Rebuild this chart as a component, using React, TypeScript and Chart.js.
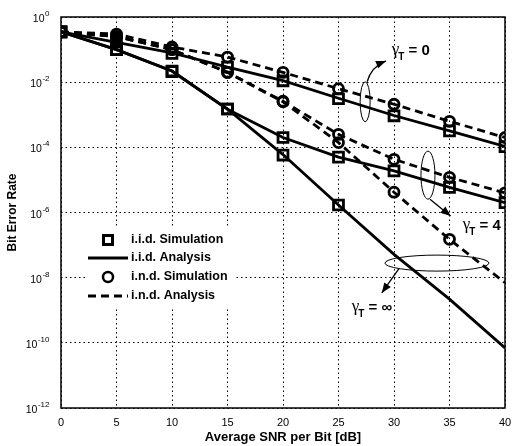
import React, { useEffect, useRef } from 'react';
import { Chart, registerables } from 'chart.js';
Chart.register(...registerables);

// ---- data ----
const snr = [0, 5, 10, 15, 20, 25, 30, 35, 40];

const iidAnalysisG0 = [3.5e-1, 1.66e-1, 7.9e-2, 2.9e-2, 1.12e-2, 3.2e-3, 9.5e-4, 3.2e-4, 1.07e-4];
const iidAnalysisG4 = [3.5e-1, 1.0e-1, 2.2e-2, 1.48e-3, 2.0e-4, 5.0e-5, 1.9e-5, 5.9e-6, 2.0e-6];
const iidAnalysisGInf = [3.5e-1, 1.0e-1, 2.2e-2, 1.48e-3, 6.0e-5, 1.7e-6, 5.2e-8, 2.2e-9, 7.0e-11];

const indAnalysisG0 = [3.5e-1, 3.0e-1, 1.2e-1, 5.9e-2, 2.0e-2, 6.3e-3, 2.1e-3, 6.3e-4, 2.0e-4];
const indAnalysisG4 = [3.5e-1, 2.5e-1, 1.0e-1, 2.0e-2, 2.6e-3, 2.5e-4, 4.3e-5, 1.2e-5, 4.0e-6];
const indAnalysisGInf = [3.5e-1, 2.5e-1, 1.0e-1, 2.0e-2, 2.5e-3, 1.4e-4, 4.2e-6, 1.5e-7, 7.0e-9];

const iidSimG0 = [3.5e-1, 1.7e-1, 7.6e-2, 2.9e-2, 1.1e-2, 3.1e-3, 9.3e-4, 3.2e-4, 1.05e-4];
const iidSimG4 = [3.5e-1, 1.0e-1, 2.2e-2, 1.5e-3, 2.0e-4, 5.0e-5, 1.9e-5, 5.9e-6, 2.0e-6];
const iidSimGInf = [3.5e-1, 1.0e-1, 2.1e-2, 1.5e-3, 5.8e-5, 1.7e-6];

const indSimG0 = [3.5e-1, 3.0e-1, 1.2e-1, 5.9e-2, 2.0e-2, 6.3e-3, 2.1e-3, 6.3e-4, 2.0e-4];
const indSimG4 = [3.5e-1, 2.5e-1, 1.0e-1, 2.0e-2, 2.6e-3, 2.5e-4, 4.3e-5, 1.2e-5, 4.0e-6];
const indSimGInf = [3.5e-1, 2.5e-1, 1.0e-1, 2.0e-2, 2.5e-3, 1.4e-4, 4.2e-6, 1.5e-7];

const yTickValues = [1, 1e-2, 1e-4, 1e-6, 1e-8, 1e-10, 1e-12];
const yTickBase = '10';
const yTickExponents = ['0', '-2', '-4', '-6', '-8', '-10', '-12'];
const xTickValues = [0, 5, 10, 15, 20, 25, 30, 35, 40];

const legendLabels = ['i.i.d. Simulation', 'i.i.d. Analysis', 'i.n.d. Simulation', 'i.n.d. Analysis'];
const xTitle = 'Average SNR per Bit [dB]';
const yTitle = 'Bit Error Rate';

// annotation anchors in data coordinates
const annotValues = ['0', '4', '∞'];
const annotEllipse = [
  { x: 27.4, y: 2.5e-3 },
  { x: 33.06, y: 1.4e-5 },
  { x: 33.87, y: 2.8e-8 },
];
const annotArrowEnd = [
  { x: 29.28, y: 4.5e-2 },
  { x: 35.1, y: 7.8e-7 },
  { x: 28.9, y: 3.4e-9 },
];
const annotLabelPos = [
  { x: 29.8, y: 9.8e-2 },
  { x: 36.2, y: 4.2e-7 },
  { x: 26.2, y: 1.26e-9 },
];

const FONT = '"Liberation Sans", Arial, sans-serif';

function pts(ys: number[]) {
  return ys.map((v, i) => ({ x: snr[i], y: v }));
}

function drawArrowHead(ctx: CanvasRenderingContext2D, x: number, y: number, ang: number) {
  const L = 10, W = 4;
  ctx.beginPath();
  ctx.moveTo(x, y);
  ctx.lineTo(x - L * Math.cos(ang) + W * Math.sin(ang), y - L * Math.sin(ang) - W * Math.cos(ang));
  ctx.lineTo(x - L * Math.cos(ang) - W * Math.sin(ang), y - L * Math.sin(ang) + W * Math.cos(ang));
  ctx.closePath();
  ctx.fill();
}

function drawGammaLabel(ctx: CanvasRenderingContext2D, x: number, y: number, val: string) {
  ctx.save();
  ctx.fillStyle = '#000';
  ctx.textBaseline = 'alphabetic';
  ctx.textAlign = 'left';
  ctx.font = '17px "Liberation Serif", serif';
  ctx.fillText('γ', x, y + 4);
  const gw = ctx.measureText('γ').width;
  ctx.font = 'bold 10px ' + FONT;
  ctx.fillText('T', x + gw - 1, y + 10);
  const tw = ctx.measureText('T').width;
  ctx.font = 'bold 15px ' + FONT;
  ctx.fillText(' = ' + val, x + gw + tw - 1, y + 5);
  ctx.restore();
}

const overlayPlugin = {
  id: 'overlay',
  afterDatasetsDraw(chart: any) {
    const { ctx, chartArea } = chart;
    const xs = chart.scales.x;
    const ys = chart.scales.y;
    ctx.save();
    // frame
    ctx.strokeStyle = '#000';
    ctx.lineWidth = 1.5;
    ctx.setLineDash([]);
    ctx.strokeRect(chartArea.left, chartArea.top, chartArea.right - chartArea.left, chartArea.bottom - chartArea.top);

    // y tick labels (10 with raised exponent)
    ctx.fillStyle = '#000';
    ctx.textBaseline = 'alphabetic';
    ctx.textAlign = 'left';
    yTickValues.forEach((v, i) => {
      const py = ys.getPixelForValue(v);
      ctx.font = '10.5px ' + FONT;
      const bw = ctx.measureText(yTickBase).width;
      ctx.font = '8px ' + FONT;
      const ew = ctx.measureText(yTickExponents[i]).width;
      const right = chartArea.left - 12;
      const bx = right - ew - bw;
      ctx.font = '10.5px ' + FONT;
      ctx.fillText(yTickBase, bx, py + 5);
      ctx.font = '8px ' + FONT;
      ctx.fillText(yTickExponents[i], bx + bw + 0.5, py - 1);
    });

    // legend
    const lx = chartArea.left + 24;
    const ly = chartArea.top + 210;
    ctx.fillStyle = '#fff';
    ctx.fillRect(lx, ly, 150, 82);
    const rows = [13, 31, 50, 69];
    const symX = lx + 23;
    ctx.strokeStyle = '#000';
    ctx.fillStyle = '#000';
    ctx.lineWidth = 3;
    // square
    ctx.strokeRect(symX - 4.5, ly + rows[0] - 4.5, 9, 9);
    // solid line
    ctx.beginPath();
    ctx.moveTo(lx + 3, ly + rows[1]);
    ctx.lineTo(lx + 43, ly + rows[1]);
    ctx.stroke();
    // circle
    ctx.lineWidth = 2.5;
    ctx.beginPath();
    ctx.arc(symX, ly + rows[2], 5, 0, Math.PI * 2);
    ctx.stroke();
    // dashed
    ctx.lineWidth = 3;
    ctx.setLineDash([8, 5]);
    ctx.beginPath();
    ctx.moveTo(lx + 3, ly + rows[3]);
    ctx.lineTo(lx + 43, ly + rows[3]);
    ctx.stroke();
    ctx.setLineDash([]);
    ctx.font = 'bold 12.5px ' + FONT;
    ctx.textBaseline = 'middle';
    ctx.textAlign = 'left';
    legendLabels.forEach((t, i) => ctx.fillText(t, lx + 46, ly + rows[i]));

    // annotations
    const ellR = [
      { rx: 5, ry: 20 },
      { rx: 7, ry: 24 },
      { rx: 52, ry: 8 },
    ];
    ctx.lineWidth = 1;
    annotEllipse.forEach((e, i) => {
      const cx = xs.getPixelForValue(e.x);
      const cy = ys.getPixelForValue(e.y);
      ctx.beginPath();
      ctx.ellipse(cx, cy, ellR[i].rx, ellR[i].ry, 0, 0, Math.PI * 2);
      ctx.stroke();
    });
    ctx.lineWidth = 1.3;
    // arrow 0 (curved, from ellipse top)
    {
      const cx = xs.getPixelForValue(annotEllipse[0].x);
      const cy = ys.getPixelForValue(annotEllipse[0].y);
      const ex = xs.getPixelForValue(annotArrowEnd[0].x);
      const ey = ys.getPixelForValue(annotArrowEnd[0].y);
      const sx = cx + 2, sy = cy - ellR[0].ry;
      const qx = cx + 6, qy = ey + 6;
      ctx.beginPath();
      ctx.moveTo(sx, sy);
      ctx.quadraticCurveTo(qx, qy, ex, ey);
      ctx.stroke();
      drawArrowHead(ctx, ex, ey, Math.atan2(ey - qy, ex - qx));
    }
    // arrow 4 (from ellipse bottom)
    {
      const cx = xs.getPixelForValue(annotEllipse[1].x);
      const cy = ys.getPixelForValue(annotEllipse[1].y);
      const ex = xs.getPixelForValue(annotArrowEnd[1].x);
      const ey = ys.getPixelForValue(annotArrowEnd[1].y);
      const sx = cx + 2, sy = cy + ellR[1].ry;
      ctx.beginPath();
      ctx.moveTo(sx, sy);
      ctx.lineTo(ex, ey);
      ctx.stroke();
      drawArrowHead(ctx, ex, ey, Math.atan2(ey - sy, ex - sx));
    }
    // arrow inf (from ellipse lower left)
    {
      const cx = xs.getPixelForValue(annotEllipse[2].x);
      const cy = ys.getPixelForValue(annotEllipse[2].y);
      const ex = xs.getPixelForValue(annotArrowEnd[2].x);
      const ey = ys.getPixelForValue(annotArrowEnd[2].y);
      const sx = cx - 38, sy = cy + ellR[2].ry * 0.7;
      ctx.beginPath();
      ctx.moveTo(sx, sy);
      ctx.lineTo(ex, ey);
      ctx.stroke();
      drawArrowHead(ctx, ex, ey, Math.atan2(ey - sy, ex - sx));
    }
    annotLabelPos.forEach((p, i) => {
      drawGammaLabel(ctx, xs.getPixelForValue(p.x), ys.getPixelForValue(p.y), annotValues[i]);
    });
    ctx.restore();
  },
};

const lineDs = (label: string, data: number[], dashed: boolean) => ({
  label,
  data: pts(data),
  borderColor: '#000',
  backgroundColor: '#000',
  borderWidth: 2.8,
  borderDash: dashed ? [8, 5] : [],
  pointRadius: 0,
  showLine: true,
  fill: false,
  tension: 0,
});

const simDs = (label: string, data: number[], square: boolean) => ({
  label,
  data: pts(data),
  borderColor: '#000',
  backgroundColor: 'rgba(0,0,0,0)',
  pointStyle: square ? 'rect' : 'circle',
  pointRadius: square ? 7 : 5,
  pointBorderWidth: 2.8,
  showLine: false,
});

export default function App() {
  const ref = useRef<HTMLCanvasElement | null>(null);
  useEffect(() => {
    if (!ref.current) return;
    const chart = new Chart(ref.current, {
      type: 'scatter',
      data: {
        datasets: [
          lineDs('i.i.d. Analysis γT=0', iidAnalysisG0, false),
          lineDs('i.i.d. Analysis γT=4', iidAnalysisG4, false),
          lineDs('i.i.d. Analysis γT=∞', iidAnalysisGInf, false),
          lineDs('i.n.d. Analysis γT=0', indAnalysisG0, true),
          lineDs('i.n.d. Analysis γT=4', indAnalysisG4, true),
          lineDs('i.n.d. Analysis γT=∞', indAnalysisGInf, true),
          simDs('i.i.d. Simulation γT=0', iidSimG0, true),
          simDs('i.i.d. Simulation γT=4', iidSimG4, true),
          simDs('i.i.d. Simulation γT=∞', iidSimGInf, true),
          simDs('i.n.d. Simulation γT=0', indSimG0, false),
          simDs('i.n.d. Simulation γT=4', indSimG4, false),
          simDs('i.n.d. Simulation γT=∞', indSimGInf, false),
        ] as any,
      },
      options: {
        animation: false,
        responsive: false,
        layout: { padding: { left: 0, right: 10, top: 17, bottom: 0 } },
        plugins: {
          legend: { display: false },
          tooltip: { enabled: false },
        },
        scales: {
          x: {
            type: 'linear',
            min: 0,
            max: 40,
            afterBuildTicks: (s: any) => {
              s.ticks = xTickValues.map((v) => ({ value: v }));
            },
            afterFit: (s: any) => {
              s.height = 38;
              s.paddingLeft = 0;
              s.paddingRight = 0;
            },
            ticks: {
              color: '#000',
              font: { family: FONT, size: 11 },
              padding: 8,
              maxRotation: 0,
              autoSkip: false,
              callback: (v: any) => String(v),
            },
            grid: { color: '#000', lineWidth: 1, drawTicks: false },
            border: { display: false, dash: [1.5, 3] },
            title: {
              display: true,
              text: xTitle,
              color: '#000',
              font: { family: FONT, size: 13, weight: 'bold' },
              padding: { top: 0, bottom: 1 },
            },
          },
          y: {
            type: 'logarithmic',
            min: 1e-12,
            max: 1,
            afterBuildTicks: (s: any) => {
              s.ticks = yTickValues.map((v) => ({ value: v }));
            },
            afterFit: (s: any) => {
              s.width = 61;
              s.paddingTop = 0;
              s.paddingBottom = 0;
            },
            ticks: { display: false },
            grid: { color: '#000', lineWidth: 1, drawTicks: false },
            border: { display: false, dash: [1.5, 3] },
            title: {
              display: true,
              text: yTitle,
              color: '#000',
              font: { family: FONT, size: 12, weight: 'bold' },
              padding: { top: 5, bottom: 0 },
            },
          },
        },
      } as any,
      plugins: [overlayPlugin],
    });
    return () => chart.destroy();
  }, []);
  return (
    <div style={{ position: 'fixed', left: 0, top: 0, width: 515, height: 446, background: '#fff' }}>
      <canvas ref={ref} width={515} height={446} />
    </div>
  );
}
